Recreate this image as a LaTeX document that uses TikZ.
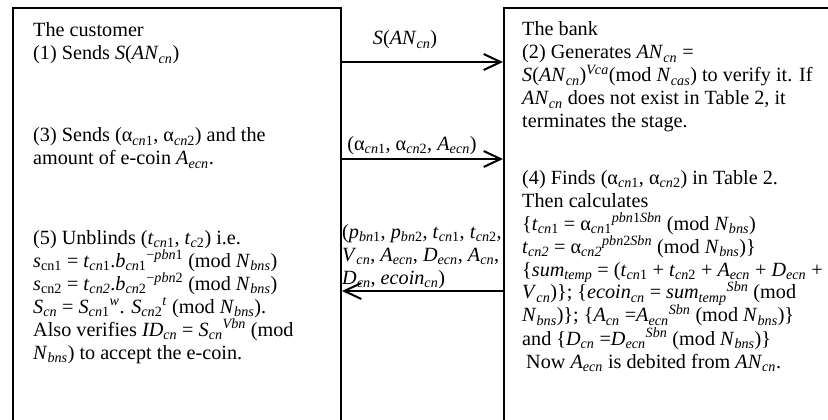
\documentclass[tikz,border=0pt]{standalone}
\usepackage{fontspec}
\setmainfont{Liberation Serif}
\usetikzlibrary{arrows.meta}
\newcommand\Sb[1]{\textsubscript{#1}}
\newcommand\Sp[1]{\textsuperscript{#1}}
\newcommand\I[1]{\textit{#1}}
\newcommand\Blk[1]{\parbox[t]{320pt}{\raggedright\fontsize{20.2}{23}\selectfont\lineskiplimit=-100pt #1}}
\begin{document}
\begin{tikzpicture}[x=1pt,y=1pt,
  boxstyle/.style={draw, line width=2pt, rectangle, inner sep=0pt, anchor=north west},
  txt/.style={anchor=base west, inner sep=0pt},
  lbl/.style={anchor=base, inner sep=0pt, font={\fontsize{20.2}{23}\selectfont}},
  msg/.style={line width=2pt, -{Straight Barb[length=17pt,width=16pt,line width=2pt]}}]
\useasboundingbox (0,0) rectangle (828,-420);
\clip (0,0) rectangle (828,-420);
\node[boxstyle, minimum width=328pt, minimum height=453pt] (cust) at (12,-7) {};
\node[boxstyle, minimum width=360pt, minimum height=453pt] (bank) at (503,-7) {};
% customer texts
\node[txt] (c1) at (33,-37) {\Blk{The customer\\
(1) Sends \I{S}(\I{AN}\Sb{\I{cn}})}};
\node[txt] (c3) at (33,-142) {\Blk{(3) Sends (α\Sb{\I{cn}1}, α\Sb{\I{cn}2}) and the\\
amount of e-coin \I{A}\Sb{\I{ecn}}.}};
\node[txt] (c5) at (33,-244) {\Blk{(5) Unblinds (\I{t}\Sb{\I{cn}1}, \I{t}\Sb{\I{c}2}) i.e.\\
\I{s}\Sb{cn1} = \I{t}\Sb{\I{cn}1}.\I{b}\Sb{\I{cn}1}\Sp{−\I{pbn}1} (mod \I{N}\Sb{\I{bns}})\\
\I{s}\Sb{cn2} = \I{t}\Sb{\I{cn2}}.\I{b}\Sb{\I{cn}2}\Sp{−\I{pbn}2} (mod \I{N}\Sb{\I{bns}})\\
\I{S}\Sb{\I{cn}} = \I{S}\Sb{\I{cn}1}\Sp{\I{w}}. \I{S}\Sb{\I{cn}2}\Sp{\I{t}} (mod \I{N}\Sb{\I{bns}}).\\
Also verifies \I{ID}\Sb{\I{cn}} = \I{S}\Sb{\I{cn}}\Sp{\I{Vbn}} (mod\\
\I{N}\Sb{\I{bns}}) to accept the e-coin.}};
% bank texts
\node[txt] (b2) at (522,-36) {\Blk{The bank\\
(2) Generates \I{AN}\Sb{\I{cn}} =\\
\I{S}(\I{AN}\Sb{\I{cn}})\Sp{\I{Vca}}(mod \I{N}\Sb{\I{cas}}) to verify it. If\\
\I{AN}\Sb{\I{cn}} does not exist in Table 2, it\\
terminates the stage.}};
\node[txt] (b4) at (522,-184) {\Blk{(4) Finds (α\Sb{\I{cn}1}, α\Sb{\I{cn}2}) in Table 2.\\
Then calculates\\
\{\I{t}\Sb{\I{cn}1} = α\Sb{\I{cn}1}\Sp{\I{pbn}1\I{Sbn}} (mod \I{N}\Sb{\I{bns}})\\
\I{t}\Sb{\I{cn2}} = α\Sb{\I{cn2}}\Sp{\I{pbn}2\I{Sbn}} (mod \I{N}\Sb{\I{bns}})\}\\
\{\I{sum}\Sb{\I{temp}} = (\I{t}\Sb{\I{cn}1} + \I{t}\Sb{\I{cn}2} + \I{A}\Sb{\I{ecn}} + \I{D}\Sb{\I{ecn}} +\\
\I{V}\Sb{\I{cn}})\}; \{\I{ecoin}\Sb{\I{cn}} = \I{sum}\Sb{\I{temp}}\Sp{\I{Sbn}} (mod\\
\I{N}\Sb{\I{bns}})\}; \{\I{A}\Sb{\I{cn}} =\I{A}\Sb{\I{ecn}}\Sp{\I{Sbn}} (mod \I{N}\Sb{\I{bns}})\}\\
and \{\I{D}\Sb{\I{cn}} =\I{D}\Sb{\I{ecn}}\Sp{\I{Sbn}} (mod \I{N}\Sb{\I{bns}})\}\\
\hspace*{4pt}Now \I{A}\Sb{\I{ecn}} is debited from \I{AN}\Sb{\I{cn}}.}};
% messages
\coordinate (y1) at (0,-62);
\coordinate (y2) at (0,-159);
\coordinate (y3) at (0,-291);
\draw[msg] (cust.east |- y1) -- (bank.west |- y1);
\draw[msg] (cust.east |- y2) -- (bank.west |- y2);
\draw[msg] (bank.west |- y3) -- (cust.east |- y3);
\node[lbl] (l1) at (405,-45) {\I{S}(\I{AN}\Sb{\I{cn}})};
\node[lbl] (l2) at (412,-150) {(α\Sb{\I{cn}1}, α\Sb{\I{cn}2}, \I{A}\Sb{\I{ecn}})};
\node[txt] (l3) at (342,-238) {\Blk{(\I{p}\Sb{\I{bn}1}, \I{p}\Sb{\I{bn}2}, \I{t}\Sb{\I{cn}1}, \I{t}\Sb{\I{cn}2},\\
\I{V}\Sb{\I{cn}}, \I{A}\Sb{\I{ecn}}, \I{D}\Sb{\I{ecn}}, \I{A}\Sb{\I{cn}},\\
\I{D}\Sb{\I{cn}}, \I{ecoin}\Sb{\I{cn}})}};
\end{tikzpicture}
\end{document}
